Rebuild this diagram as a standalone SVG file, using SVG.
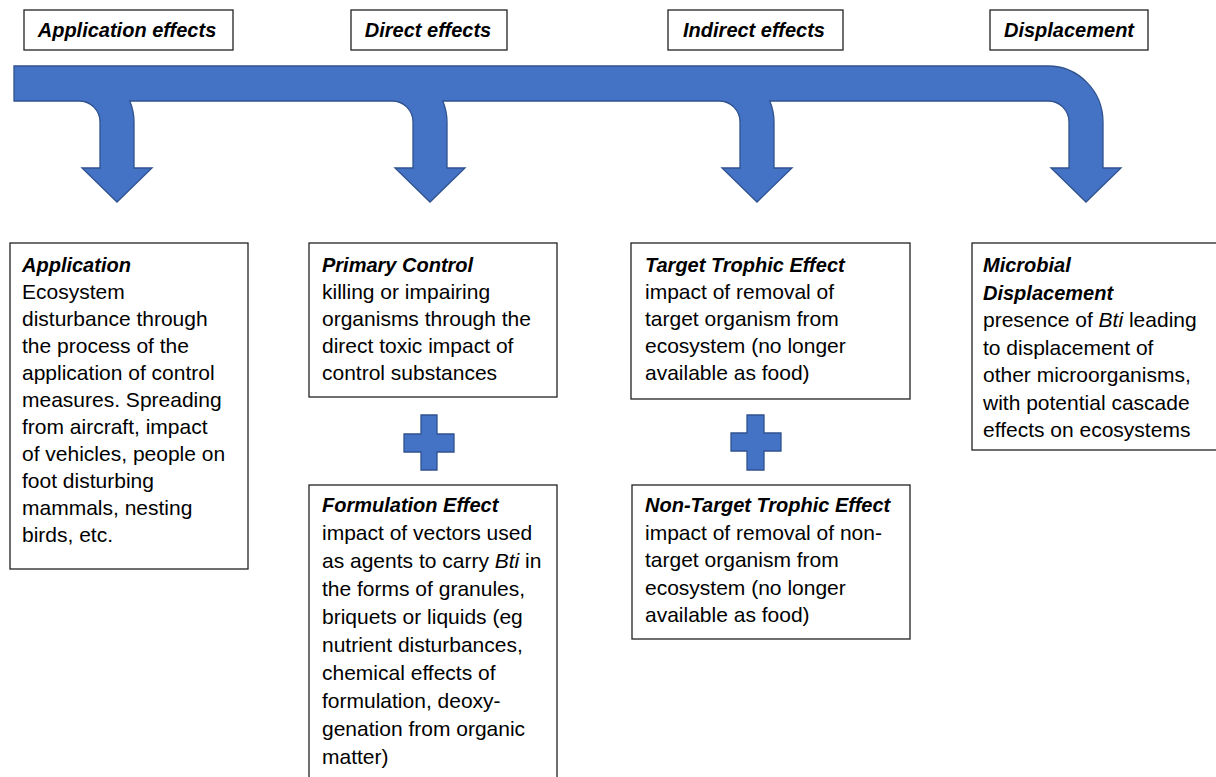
<svg xmlns="http://www.w3.org/2000/svg" width="1216" height="777" viewBox="0 0 1216 777">
<style>
.box{fill:#fff;stroke:#222;stroke-width:1.3}
.hdr{font-family:"Liberation Sans",Arial,sans-serif;font-size:20px;font-weight:bold;font-style:italic;fill:#000;text-anchor:middle}
.t{font-family:"Liberation Sans",Arial,sans-serif;font-size:21px;fill:#000}
.ttl{font-weight:bold;font-style:italic;font-size:20px}
.it{font-style:italic}
.arrow{fill:#4472C4;stroke:#2F528F;stroke-width:1.3;stroke-linejoin:miter}
</style>
<rect width="1216" height="777" fill="#fff"/>
<g id="headers">
<g id="hdr-application"><rect class="box" x="24" y="10" width="209" height="40"/><text class="hdr" x="127" y="37">Application effects</text></g>
<g id="hdr-direct"><rect class="box" x="351" y="10" width="156" height="40"/><text class="hdr" x="428" y="37">Direct effects</text></g>
<g id="hdr-indirect"><rect class="box" x="668" y="10" width="175" height="40"/><text class="hdr" x="754" y="37">Indirect effects</text></g>
<g id="hdr-displacement"><rect class="box" x="990" y="10" width="158" height="40"/><text class="hdr" x="1069" y="37">Displacement</text></g>
</g>
<g id="connectors">
<path class="arrow" d="M14,66 H1048 A55,56 0 0 1 1103,122 V168 H1121 L1086,202 L1051,168 H1069 V122 A21,21 0 0 0 1048,101 H769.8 A55,55 0 0 1 774,122 V168 H792 L757,202 L722,168 H740 V122 A21,21 0 0 0 719,101 H442.8 A55,55 0 0 1 447,122 V168 H465 L430,202 L395,168 H413 V122 A21,21 0 0 0 392,101 H129.8 A55,55 0 0 1 134,122 V168 H152 L117,202 L82,168 H100 V122 A21,21 0 0 0 79,101 H14 Z"/>
<polygon id="plus-direct" class="arrow" points="421,415 437,415 437,434 454,434 454,452 437,452 437,470 421,470 421,452 404,452 404,434 421,434"/>
<polygon id="plus-indirect" class="arrow" points="747,415 764,415 764,433 781,433 781,451 764,451 764,470 747,470 747,451 731,451 731,433 747,433"/>
</g>
<g id="node-application">
<rect class="box" x="10" y="243" width="238" height="326"/>
<text class="t" x="22" y="272"><tspan class="ttl">Application</tspan>
<tspan x="22" y="299">Ecosystem</tspan>
<tspan x="22" y="326">disturbance through</tspan>
<tspan x="22" y="353">the process of the</tspan>
<tspan x="22" y="380">application of control</tspan>
<tspan x="22" y="407">measures. Spreading</tspan>
<tspan x="22" y="434">from aircraft, impact</tspan>
<tspan x="22" y="461">of vehicles, people on</tspan>
<tspan x="22" y="488">foot disturbing</tspan>
<tspan x="22" y="515">mammals, nesting</tspan>
<tspan x="22" y="542">birds, etc.</tspan></text>
</g>
<g id="node-primary-control">
<rect class="box" x="309" y="243" width="248" height="154"/>
<text class="t" x="322" y="272"><tspan class="ttl">Primary Control</tspan>
<tspan x="322" y="299">killing or impairing</tspan>
<tspan x="322" y="326">organisms through the</tspan>
<tspan x="322" y="353">direct toxic impact of</tspan>
<tspan x="322" y="380">control substances</tspan></text>
</g>
<g id="node-formulation-effect">
<rect class="box" x="309" y="485" width="248" height="310"/>
<text class="t" x="322" y="512"><tspan class="ttl">Formulation Effect</tspan>
<tspan x="322" y="540">impact of vectors used</tspan>
<tspan x="322" y="568">as agents to carry <tspan class="it">Bti</tspan> in</tspan>
<tspan x="322" y="596">the forms of granules,</tspan>
<tspan x="322" y="624">briquets or liquids (eg</tspan>
<tspan x="322" y="652">nutrient disturbances,</tspan>
<tspan x="322" y="680">chemical effects of</tspan>
<tspan x="322" y="708">formulation, deoxy-</tspan>
<tspan x="322" y="736">genation from organic</tspan>
<tspan x="322" y="764">matter)</tspan></text>
</g>
<g id="node-target-trophic">
<rect class="box" x="631" y="243" width="279" height="156"/>
<text class="t" x="645" y="272"><tspan class="ttl">Target Trophic Effect</tspan>
<tspan x="645" y="299">impact of removal of</tspan>
<tspan x="645" y="326">target organism from</tspan>
<tspan x="645" y="353">ecosystem (no longer</tspan>
<tspan x="645" y="380">available as food)</tspan></text>
</g>
<g id="node-non-target-trophic">
<rect class="box" x="632" y="485" width="278" height="154"/>
<text class="t" x="645" y="512"><tspan class="ttl">Non-Target Trophic Effect</tspan>
<tspan x="645" y="540">impact of removal of non-</tspan>
<tspan x="645" y="567">target organism from</tspan>
<tspan x="645" y="595">ecosystem (no longer</tspan>
<tspan x="645" y="622">available as food)</tspan></text>
</g>
<g id="node-microbial-displacement">
<rect class="box" x="972" y="243" width="260" height="207"/>
<text class="t" x="983" y="272"><tspan class="ttl">Microbial</tspan>
<tspan class="ttl" x="983" y="300">Displacement</tspan>
<tspan x="983" y="327">presence of <tspan class="it">Bti</tspan> leading</tspan>
<tspan x="983" y="355">to displacement of</tspan>
<tspan x="983" y="382">other microorganisms,</tspan>
<tspan x="983" y="410">with potential cascade</tspan>
<tspan x="983" y="437">effects on ecosystems</tspan></text>
</g>
</svg>
